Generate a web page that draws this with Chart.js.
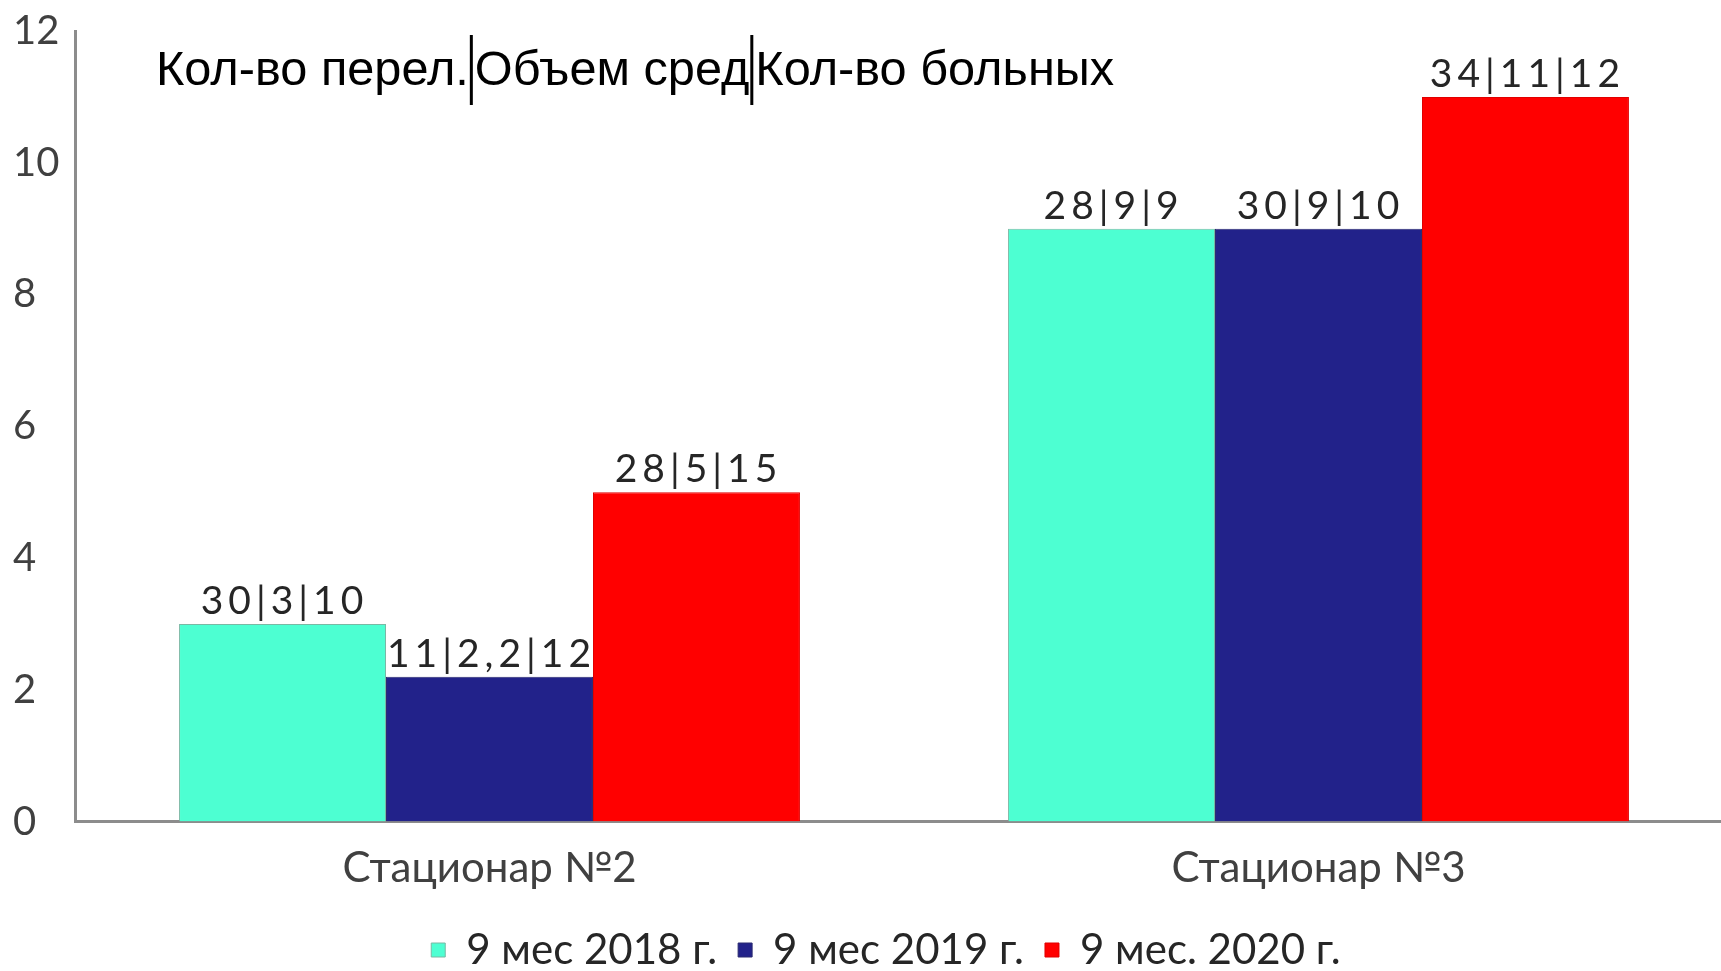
<!DOCTYPE html>
<html>
<head>
<meta charset="utf-8">
<script src="https://cdn.jsdelivr.net/npm/chart.js@4/dist/chart.umd.min.js"></script>
<style>
  html, body { margin: 0; padding: 0; background: #ffffff; overflow: hidden; }
  #wrap { width: 1721px; height: 971px; position: relative; overflow: hidden; }
  #c { position: absolute; left: 0; top: 0; }
</style>
</head>
<body>
<div id="wrap"><canvas id="c" width="1733" height="1000"></canvas></div>
<script>
// ---- data ----
const categories = ['Стационар №2', 'Стационар №3'];
const seriesNames = ['9 мес 2018 г.', '9 мес 2019 г.', '9 мес. 2020 г.'];
const values2018 = [3, 9];
const values2019 = [2.2, 9];
const values2020 = [5, 11];
const labels2018 = ['30|3|10', '28|9|9'];
const labels2019 = ['11|2,2|12', '30|9|10'];
const labels2020 = ['28|5|15', '34|11|12'];
const headerParts = ['Кол-во перел.', 'Объем сред', 'Кол-во больных'];
const yMin = 0, yMax = 12, yStep = 2;

const colors = ['#4dffd2', '#22228a', '#ff0000'];
const borderColors = ['#7ab8a4', '#2a2a70', '#e00000'];
const barLabels = [labels2018, labels2019, labels2020];
const seriesValues = [values2018, values2019, values2020];

const labelFont = "Lato, 'Open Sans', sans-serif";

const barLabelPlugin = {
  id: 'barLabels',
  afterDatasetsDraw(chart) {
    const ctx = chart.ctx;
    ctx.save();
    ctx.font = "39px " + labelFont;
    ctx.fillStyle = '#262626';
    ctx.textAlign = 'center';
    ctx.textBaseline = 'alphabetic';
    if ('letterSpacing' in ctx) ctx.letterSpacing = '5px';
    chart.data.datasets.forEach((ds, i) => {
      const meta = chart.getDatasetMeta(i);
      meta.data.forEach((bar, j) => {
        ctx.fillText(barLabels[i][j], bar.x + 2, bar.y - 10);
      });
    });
    ctx.restore();
  }
};

const headerPlugin = {
  id: 'header',
  afterDraw(chart) {
    const ctx = chart.ctx;
    ctx.save();
    ctx.font = "48.7px 'Liberation Sans', Arial, sans-serif";
    ctx.fillStyle = '#000';
    ctx.textAlign = 'left';
    ctx.textBaseline = 'alphabetic';
    let x = 156;
    const baseY = 85;
    headerParts.forEach((p, k) => {
      ctx.fillText(p, x, baseY);
      x += ctx.measureText(p).width;
      if (k < headerParts.length - 1) {
        x += 1;
        ctx.fillRect(x, 35, 3, 70);
        x += 5;
      }
    });
    ctx.restore();
  }
};

const legendShiftPlugin = {
  id: 'legendShift',
  afterLayout(chart) {
    if (chart.legend) {
      chart.legend.left += 13;
      chart.legend.right += 13;
    }
  }
};

new Chart(document.getElementById('c'), {
  type: 'bar',
  data: {
    labels: categories,
    datasets: seriesNames.map((n, i) => ({
      label: n,
      data: seriesValues[i],
      backgroundColor: colors[i],
      borderColor: borderColors[i],
      borderWidth: 1,
      barPercentage: 1.0,
      categoryPercentage: 0.749
    }))
  },
  options: {
    responsive: false,
    animation: false,
    layout: { padding: { left: 13, right: 0, top: 31, bottom: 19 } },
    plugins: {
      title: { display: false },
      tooltip: { enabled: false },
      legend: {
        display: true,
        position: 'bottom',
        labels: {
          font: { family: labelFont, size: 42 },
          color: '#262626',
          boxWidth: 14,
          boxHeight: 14,
          padding: 21
        }
      }
    },
    scales: {
      x: {
        grid: { display: false },
        border: { display: true, color: '#8c8c8c', width: 3 },
        ticks: {
          font: { family: labelFont, size: 42 },
          color: '#404040',
          padding: 14
        }
      },
      y: {
        min: yMin,
        max: yMax,
        grid: { display: false },
        border: { display: true, color: '#8c8c8c', width: 3 },
        afterFit(scale) { scale.width = 62; scale.paddingTop = 0; },
        ticks: {
          stepSize: yStep,
          font: { family: labelFont, size: 40 },
          color: '#404040',
          crossAlign: 'far',
          padding: 14
        }
      }
    }
  },
  plugins: [barLabelPlugin, headerPlugin, legendShiftPlugin]
});
</script>
</body>
</html>
